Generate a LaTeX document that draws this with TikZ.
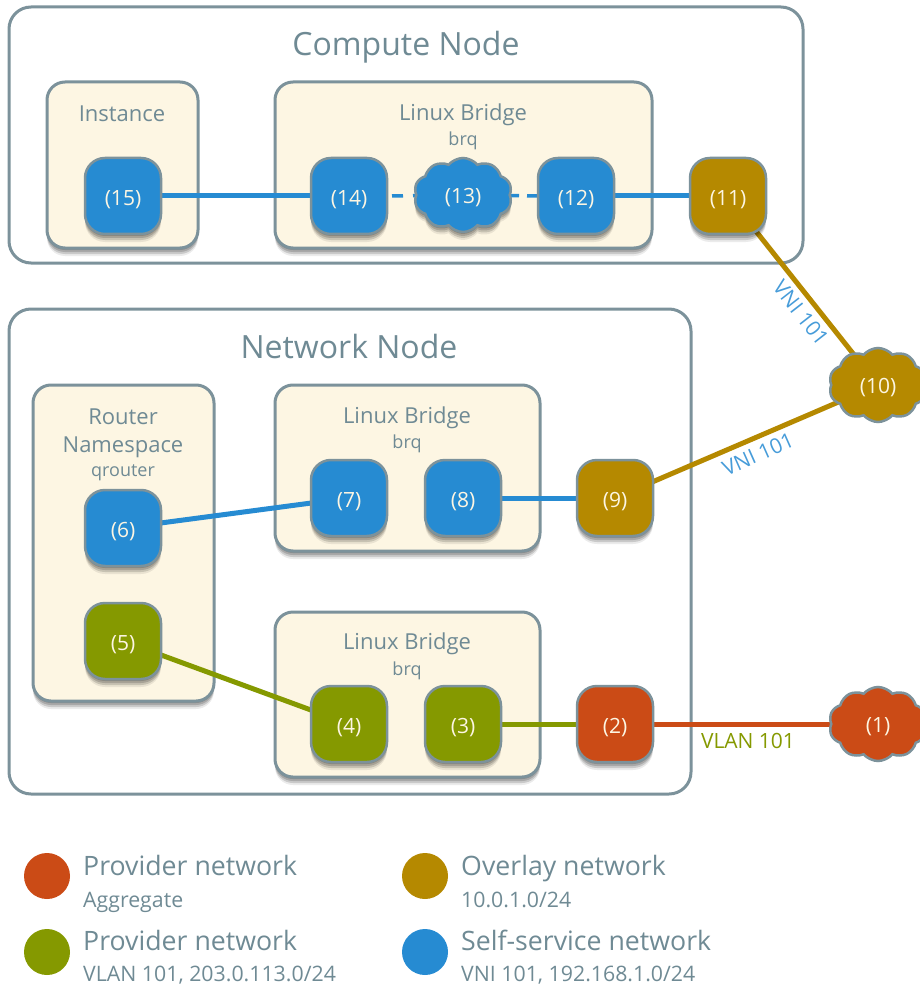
\documentclass[tikz,border=0pt]{standalone}
\usepackage{fontspec}
\setmainfont{Open Sans}
\usetikzlibrary{shadows,shapes.symbols}
\definecolor{cblue}{HTML}{268BD2}
\definecolor{colive}{HTML}{859900}
\definecolor{cbrown}{HTML}{B58900}
\definecolor{cred}{HTML}{CB4B16}
\definecolor{cgray}{HTML}{6F8A94}
\definecolor{cborder}{HTML}{7C929B}
\definecolor{ccream}{HTML}{FDF6E3}
\pgfdeclarelayer{boxlayer}
\pgfdeclarelayer{edgelayer}
\pgfsetlayers{boxlayer,edgelayer,main}
\tikzset{
  softshadow/.style={
    general shadow={shadow xshift=0pt,shadow yshift=-2pt,fill=black,opacity=.16},
    general shadow={shadow xshift=0pt,shadow yshift=-4pt,fill=black,opacity=.16},
    general shadow={shadow xshift=0pt,shadow yshift=-6pt,fill=black,opacity=.14},
    general shadow={shadow xshift=0pt,shadow yshift=-8pt,fill=black,opacity=.08}},
  outerbox/.style={draw=cborder,line width=3pt,fill=white,rounded corners=22pt,inner sep=0pt,outer sep=0pt},
  groupbox/.style={draw=cborder,line width=3pt,fill=ccream,rounded corners=18pt,inner sep=0pt,outer sep=0pt,softshadow},
  port/.style={draw=cborder,line width=2.5pt,rounded corners=20pt,minimum size=76pt,inner sep=0pt,outer sep=0pt,
    text=ccream,font=\fontsize{21}{24}\selectfont,text height=24pt,text depth=5pt,softshadow},
  cloudnode/.style={cloud,cloud puffs=10,cloud puff arc=100,aspect=1.3,draw=cborder,line width=2.5pt,minimum width=98pt,minimum height=74pt,inner sep=0pt,outer sep=0pt,
    text=ccream,font=\fontsize{21}{24}\selectfont,text height=22pt,text depth=5pt},
  link/.style={line width=5pt},
  thinlink/.style={line width=3.5pt},
  title/.style={text=cgray,font=\fontsize{32}{38}\selectfont},
  head/.style={text=cgray,font=\fontsize{22}{26}\selectfont,inner sep=0pt},
  sub/.style={text=cgray,font=\fontsize{18}{22}\selectfont,inner sep=0pt},
  leg/.style={text=cgray,font=\fontsize{26.7}{30}\selectfont,inner sep=0pt,anchor=base west},
  legsub/.style={text=cgray,font=\fontsize{21.3}{24}\selectfont,inner sep=0pt,anchor=base west},
  dot/.style={circle,minimum size=46pt,inner sep=0pt,outer sep=0pt},
  edgelabel/.style={font=\fontsize{21}{25}\selectfont,inner sep=0pt},
}
\begin{document}
\begin{tikzpicture}[x=1pt,y=-1pt]
\useasboundingbox (0,0) rectangle (919,984);
\begin{pgfonlayer}{boxlayer}
\node[outerbox,minimum width=794pt,minimum height=256pt] (compute) at (406,135) {};
\node[outerbox,minimum width=682pt,minimum height=485pt] (network) at (350,551.5) {};
\node[groupbox,minimum width=151pt,minimum height=166pt] (instance) at (122.5,165) {};
\node[groupbox,minimum width=377pt,minimum height=166pt] (bridgeA) at (463.5,165) {};
\node[groupbox,minimum width=181pt,minimum height=316pt] (router) at (123.5,543) {};
\node[groupbox,minimum width=265pt,minimum height=166pt] (bridgeB) at (407.5,468) {};
\node[groupbox,minimum width=265pt,minimum height=165pt] (bridgeC) at (407.5,694.5) {};
\end{pgfonlayer}

\node[title] (tcompute) at (406,47) {Compute Node};
\node[title] (tnetwork) at (349,346) {Network Node};
\node[head] (tinstance) at (122,114) {Instance};
\node[head] (tbridgeA) at (463,115) {Linux Bridge};
\node[sub] (sbridgeA) at (463,141) {brq};
\node[head] (trouterA) at (123,417) {Router};
\node[head] (trouterB) at (123,447) {Namespace};
\node[sub] (srouter) at (123,473) {qrouter};
\node[head] (tbridgeB) at (407,418) {Linux Bridge};
\node[sub] (sbridgeB) at (407,444) {brq};
\node[head] (tbridgeC) at (407,644) {Linux Bridge};
\node[sub] (sbridgeC) at (407,671) {brq};

\node[port,fill=cblue] (n15) at (123,196) {(15)};
\node[port,fill=cblue] (n14) at (349,196) {(14)};
\node[cloudnode,fill=cblue,softshadow] (n13) at (463,195) {(13)};
\node[port,fill=cblue] (n12) at (576,196) {(12)};
\node[port,fill=cbrown] (n11) at (728,196) {(11)};
\node[port,fill=cblue] (n6) at (123,528) {(6)};
\node[port,fill=cblue] (n7) at (349,498) {(7)};
\node[port,fill=cblue] (n8) at (463,498) {(8)};
\node[port,fill=cbrown] (n9) at (615,498) {(9)};
\node[port,fill=colive] (n5) at (123,641) {(5)};
\node[port,fill=colive] (n4) at (349,724) {(4)};
\node[port,fill=colive] (n3) at (463,724) {(3)};
\node[port,fill=cred] (n2) at (615,724) {(2)};
\node[cloudnode,fill=cbrown] (n10) at (878,385) {(10)};
\node[cloudnode,fill=cred] (n1) at (878,724) {(1)};

\begin{pgfonlayer}{edgelayer}
\draw[link,cblue] (n15.center) -- (n14.center);
\draw[link,cblue] (n12.center) -- (n11.center);
\draw[thinlink,cblue,dash pattern=on 11pt off 10pt,dash phase=16pt] (n14.east) -- (n13.center);
\draw[thinlink,cblue,dash pattern=on 11pt off 8pt] (n12.west) -- (n13.center);
\draw[link,cbrown] (n11.center) -- (n10.center);
\draw[link,cbrown] (n9.center) -- (n10.center);
\draw[link,cblue] (n6.center) -- (n7.center);
\draw[link,cblue] (n8.center) -- (n9.center);
\draw[link,colive] (n5.center) -- (n4.center);
\draw[link,colive] (n3.center) -- (n2.center);
\draw[link,cred] (n2.center) -- (n1.center);
\end{pgfonlayer}

\node[edgelabel,text=cblue!85!white,rotate=-52] (l11) at (801,313) {VNI 101};
\node[edgelabel,text=cblue!85!white,rotate=24] (l9) at (758,454) {VNI 101};
\node[edgelabel,text=colive] (l2) at (748,741) {VLAN 101};

\node[dot,fill=cred] (dA) at (47,876) {};
\node[dot,fill=colive] (dB) at (47,952) {};
\node[dot,fill=cbrown] (dC) at (425,876) {};
\node[dot,fill=cblue] (dD) at (425,952) {};
\node[leg] (lA) at (83,875) {Provider network};
\node[legsub] (sA) at (83,907) {Aggregate};
\node[leg] (lB) at (83,950) {Provider network};
\node[legsub] (sB) at (83,981) {VLAN 101, 203.0.113.0/24};
\node[leg] (lC) at (461,875) {Overlay network};
\node[legsub] (sC) at (461,907) {10.0.1.0/24};
\node[leg] (lD) at (461,950) {Self-service network};
\node[legsub] (sD) at (461,981) {VNI 101, 192.168.1.0/24};
\end{tikzpicture}
\end{document}
